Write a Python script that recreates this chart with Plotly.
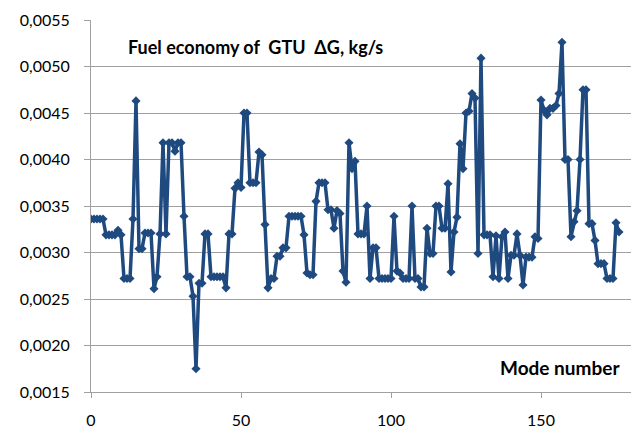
import plotly.graph_objects as go

# Mode numbers and fuel economy values (kg/s)
mode_number = list(range(0, 177))
fuel_economy = [
    0.00336, 0.00336, 0.00336, 0.00336, 0.00336, 0.00319, 0.00319, 0.00319, 0.00319, 0.00324,
    0.00319, 0.00272, 0.00272, 0.00272, 0.00336, 0.00463, 0.00304, 0.00304, 0.00321, 0.00321,
    0.00321, 0.00261, 0.00274, 0.00320, 0.00418, 0.00320, 0.00418, 0.00418, 0.00409, 0.00418,
    0.00418, 0.00339, 0.00274, 0.00274, 0.00253, 0.00175, 0.00267, 0.00267, 0.00320, 0.00320,
    0.00274, 0.00274, 0.00274, 0.00274, 0.00274, 0.00262, 0.00320, 0.00320, 0.00369, 0.00375,
    0.00370, 0.00450, 0.00450, 0.00375, 0.00375, 0.00375, 0.00408, 0.00405, 0.00330, 0.00262,
    0.00272, 0.00272, 0.00296, 0.00296, 0.00305, 0.00305, 0.00339, 0.00339, 0.00339, 0.00339,
    0.00339, 0.00319, 0.00278, 0.00276, 0.00276, 0.00355, 0.00375, 0.00375, 0.00375, 0.00346,
    0.00346, 0.00326, 0.00345, 0.00342, 0.00280, 0.00268, 0.00418, 0.00390, 0.00398, 0.00320,
    0.00320, 0.00320, 0.00350, 0.00272, 0.00305, 0.00305, 0.00272, 0.00272, 0.00272, 0.00272,
    0.00272, 0.00339, 0.00280, 0.00278, 0.00272, 0.00272, 0.00272, 0.00350, 0.00272, 0.00272,
    0.00263, 0.00263, 0.00326, 0.00299, 0.00299, 0.00350, 0.00350, 0.00326, 0.00326, 0.00374,
    0.00279, 0.00322, 0.00338, 0.00417, 0.00390, 0.00450, 0.00452, 0.00471, 0.00466, 0.00299,
    0.00509, 0.00319, 0.00319, 0.00319, 0.00274, 0.00318, 0.00272, 0.00317, 0.00322, 0.00272,
    0.00297, 0.00297, 0.00320, 0.00297, 0.00265, 0.00295, 0.00295, 0.00295, 0.00317, 0.00315,
    0.00464, 0.00453, 0.00448, 0.00455, 0.00455, 0.00458, 0.00471, 0.00526, 0.00400, 0.00400,
    0.00317, 0.00333, 0.00345, 0.00400, 0.00475, 0.00475, 0.00331, 0.00331, 0.00313, 0.00288,
    0.00288, 0.00288, 0.00272, 0.00272, 0.00272, 0.00332, 0.00322,
]

x_ticks = [0, 50, 100, 150]
y_ticks = [0.0015, 0.0020, 0.0025, 0.0030, 0.0035, 0.0040, 0.0045, 0.0050, 0.0055]

title_text = "Fuel economy of  GTU  ΔG, kg/s"
x_label = "Mode number"

LINE = "#1F4A80"
GRID = "#A0A0A0"
FONT = "Lato"

fig = go.Figure()
fig.add_trace(go.Scatter(
    x=mode_number, y=fuel_economy, mode="lines+markers",
    line=dict(color=LINE, width=3.5),
    marker=dict(symbol="diamond", size=7, color=LINE),
    showlegend=False,
))

fig.update_layout(
    width=631, height=428,
    margin=dict(l=91, r=0, t=20, b=36),
    paper_bgcolor="white", plot_bgcolor="white",
    separators=", ",
    font=dict(family=FONT, size=16, color="black"),
    xaxis=dict(
        range=[0, 180], tickvals=x_ticks, showgrid=False, zeroline=False,
        showline=True, linecolor=GRID, linewidth=1,
        ticks="outside", ticklen=5, tickcolor=GRID,
        tickfont=dict(family=FONT, size=16), ticklabelstandoff=9,
    ),
    yaxis=dict(
        range=[0.0015, 0.0055], tickvals=y_ticks, tickformat=".4f",
        showgrid=True, gridcolor=GRID, gridwidth=1, zeroline=False,
        showline=True, linecolor=GRID, linewidth=1,
        ticks="outside", ticklen=6, tickcolor=GRID,
        tickfont=dict(family=FONT, size=16), ticklabelstandoff=11,
    ),
    annotations=[
        dict(text=f"<b>{title_text}</b>", xref="paper", yref="paper",
             x=(126 - 91) / 540, y=(392 - 47) / 372, xanchor="left", yanchor="middle",
             showarrow=False, font=dict(family=FONT, size=18, color="black")),
        dict(text=f"<b>{x_label}</b>", xref="paper", yref="paper",
             x=(622 - 91) / 540, y=(392 - 367) / 372, xanchor="right", yanchor="middle",
             showarrow=False, font=dict(family=FONT, size=19, color="black")),
    ],
)

fig.write_html(
    "out.html",
    config={"displayModeBar": False},
    post_script="document.body.style.margin='0';document.body.style.padding='0';",
)
